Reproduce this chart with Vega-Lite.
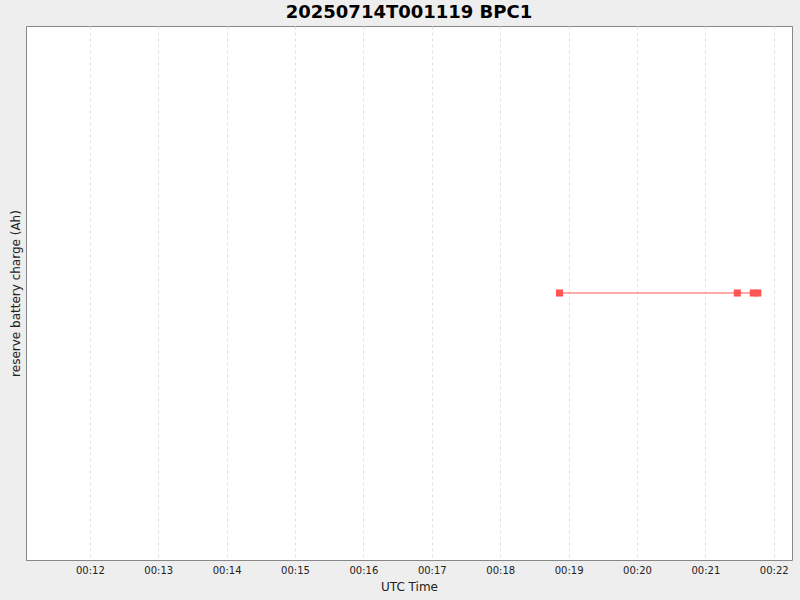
{
  "$schema": "https://vega.github.io/schema/vega-lite/v6.json",
  "autosize": {"type": "fit", "contains": "padding"},
  "width": 800,
  "height": 600,
  "padding": {"left": 9, "top": 4, "right": 8, "bottom": 8},
  "background": "#eeeeee",
  "title": {
    "text": "20250714T001119 BPC1",
    "font": "DejaVu Sans",
    "fontSize": 18,
    "fontWeight": "bold",
    "color": "black",
    "anchor": "middle",
    "offset": 4
  },
  "config": {
    "view": {"fill": "white", "stroke": "#888888", "strokeWidth": 1}
  },
  "data": {
    "values": [
      {"time": "2025-07-14T00:18:52Z", "charge": 0},
      {"time": "2025-07-14T00:21:28Z", "charge": 0},
      {"time": "2025-07-14T00:21:42Z", "charge": 0},
      {"time": "2025-07-14T00:21:46Z", "charge": 0}
    ]
  },
  "encoding": {
    "x": {
      "field": "time",
      "type": "temporal",
      "scale": {
        "type": "utc",
        "domain": ["2025-07-14T00:11:04Z", "2025-07-14T00:22:16Z"]
      },
      "axis": {
        "title": "UTC Time",
        "titleFont": "DejaVu Sans",
        "titleFontSize": 12,
        "titleFontWeight": "normal",
        "titleColor": "#222222",
        "titlePadding": 6,
        "format": "%H:%M",
        "tickCount": 12,
        "labelFont": "DejaVu Sans",
        "labelFontSize": 10,
        "labelColor": "#222222",
        "labelPadding": 5,
        "ticks": false,
        "domain": false,
        "grid": true,
        "gridColor": "#e0e0e0",
        "gridDash": [3, 3]
      }
    },
    "y": {
      "field": "charge",
      "type": "quantitative",
      "scale": {"domain": [-1, 1]},
      "axis": {
        "title": "reserve battery charge (Ah)",
        "titleFont": "DejaVu Sans",
        "titleFontSize": 12,
        "titleFontWeight": "normal",
        "titleColor": "#222222",
        "labels": false,
        "ticks": false,
        "domain": false,
        "grid": false
      }
    }
  },
  "layer": [
    {
      "mark": {"type": "line", "color": "#ff5555", "strokeWidth": 1}
    },
    {
      "mark": {"type": "square", "color": "#ff5555", "opacity": 1, "size": 50}
    }
  ]
}
